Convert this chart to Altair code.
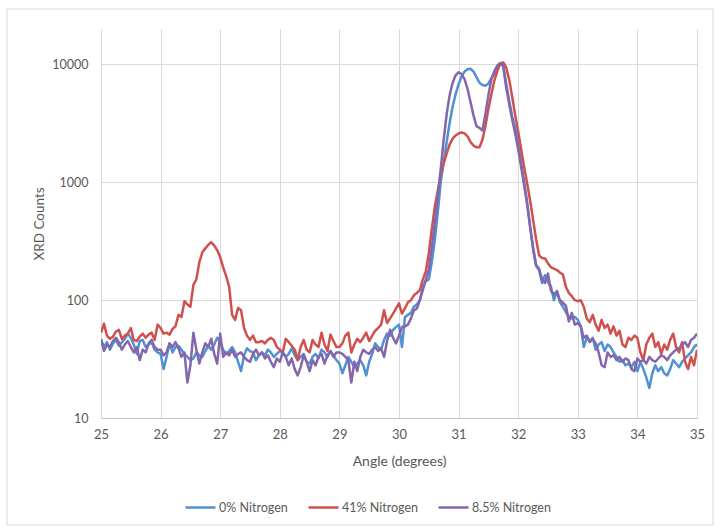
import altair as alt
import pandas as pd

# Scan grid: 25.00 to 35.00 degrees in 0.05 degree steps (201 points per scan)
ANGLE_START = 25.0
ANGLE_STEP = 0.05

series_names = ["0% Nitrogen", "41% Nitrogen", "8.5% Nitrogen"]
series_colors = ["#4F91D3", "#D0504D", "#8566AC"]

counts_0 = [
    46, 40, 44, 38, 43, 46, 41, 44, 47, 52, 48, 42, 35, 45, 46, 40, 42, 44, 38, 36,
    35, 26, 33, 43, 36, 40, 41, 38, 35, 33, 31, 32, 36, 34, 33, 37, 41, 38, 42, 48,
    44, 38, 35, 37, 40, 36, 30, 25, 34, 39, 37, 36, 31, 34, 36, 34, 38, 36, 33, 35,
    37, 36, 33, 35, 39, 34, 31, 33, 35, 30, 29, 33, 35, 32, 38, 36, 33, 37, 34, 31,
    29, 24, 28, 33, 30, 27, 29, 31, 28, 23, 30, 35, 43, 40, 38, 46, 52, 50, 56, 59,
    62, 40, 72, 75, 78, 88, 92, 100, 130, 145, 150, 210, 320, 550, 1000, 1500, 2200, 3200, 4400, 5600,
    6800, 7900, 8700, 9100, 9200, 8700, 7800, 7000, 6700, 6600, 6900, 7600, 8400, 9500, 10300, 9800, 6800, 4900, 3600, 2900,
    2100, 1450, 1000, 680, 420, 270, 195, 180, 140, 163, 142, 130, 100, 120, 96, 88, 79, 72, 70, 72,
    68, 60, 40, 48, 45, 48, 38, 42, 44, 37, 42, 40, 36, 33, 30, 31, 28, 29, 27, 30,
    25, 30, 26, 22, 18, 24, 28, 25, 27, 24, 23, 26, 31, 29, 27, 30, 32, 34, 36, 40, 42,
]

counts_41 = [
    53, 63, 50, 47, 49, 54, 56, 47, 50, 52, 58, 46, 45, 49, 52, 48, 51, 53, 46, 62,
    58, 52, 53, 51, 57, 60, 75, 72, 98, 92, 88, 135, 150, 210, 255, 275, 295, 310, 290, 265,
    232, 190, 160, 130, 75, 68, 86, 82, 58, 50, 46, 50, 44, 44, 45, 43, 46, 48, 46, 40,
    38, 36, 47, 44, 41, 38, 31, 40, 46, 38, 36, 46, 42, 40, 53, 42, 37, 51, 45, 40,
    40, 43, 50, 53, 36, 42, 47, 44, 48, 53, 45, 50, 55, 58, 62, 82, 64, 70, 77, 85,
    94, 77, 85, 96, 100, 110, 115, 122, 150, 175, 250, 400, 615, 850, 1150, 1450, 1750, 2100, 2350, 2500,
    2600, 2650, 2600, 2450, 2200, 2050, 1980, 1980, 2300, 3000, 4200, 5600, 7300, 8800, 10200, 10400, 9400, 7400, 5300, 3700,
    2700, 1900, 1350, 980, 700, 480, 330, 240, 228, 226, 205, 190, 185, 180, 172, 165, 130, 115, 108, 100,
    98, 100, 88, 70, 65, 75, 62, 55, 68, 58, 62, 52, 60, 50, 55, 42, 40, 48, 46, 50,
    48, 36, 31, 42, 48, 52, 40, 44, 35, 42, 38, 46, 52, 40, 36, 44, 30, 26, 33, 28, 38,
]

counts_8_5 = [
    47, 37, 42, 40, 45, 48, 44, 38, 42, 45, 40, 36, 40, 31, 38, 36, 43, 46, 40, 38,
    38, 34, 36, 43, 40, 44, 39, 33, 36, 20, 28, 53, 38, 29, 36, 43, 40, 47, 35, 29,
    52, 33, 36, 34, 38, 33, 35, 36, 33, 31, 30, 35, 38, 34, 36, 32, 34, 30, 27, 32,
    30, 36, 33, 28, 32, 26, 23, 27, 34, 30, 25, 31, 28, 33, 35, 29, 34, 37, 33, 36,
    36, 35, 33, 31, 20, 30, 25, 33, 38, 36, 35, 38, 40, 37, 39, 33, 45, 56, 48, 43,
    50, 59, 60, 62, 70, 82, 85, 100, 122, 150, 180, 280, 450, 750, 1300, 2300, 3800, 5500, 7000, 8100,
    8600, 8300, 7500, 6200, 4800, 3700, 3000, 2900, 2750, 3800, 5500, 7500, 8800, 9800, 10300, 9600, 6300, 4600, 3400, 2600,
    1900, 1350, 950, 650, 420, 280, 200, 185, 150, 140, 168, 120, 112, 118, 100, 95, 90, 66, 78, 62,
    64, 60, 48, 50, 44, 47, 43, 36, 28, 27, 36, 33, 34, 31, 33, 30, 32, 31, 26, 25,
    32, 30, 31, 29, 33, 31, 30, 32, 34, 33, 31, 34, 36, 38, 39, 42, 44, 40, 46, 48, 52,
]

x_ticks = list(range(25, 36))
y_ticks = [10, 100, 1000, 10000]

rows = []
for name, values in zip(series_names, [counts_0, counts_41, counts_8_5]):
    for i, v in enumerate(values):
        rows.append({"angle": round(ANGLE_START + ANGLE_STEP * i, 2), "counts": v, "sample": name})
df = pd.DataFrame(rows)

FONT = "Lato"
TEXT = "#595959"
GRID = "#D9D9D9"

lines = alt.Chart(df).mark_line(strokeWidth=2.5, strokeJoin="round", clip=True).encode(
    x=alt.X(
        "angle:Q",
        title="Angle (degrees)",
        scale=alt.Scale(domain=[25, 35], nice=False, zero=False),
        axis=alt.Axis(
            values=x_ticks,
            format="d",
            grid=True,
            gridColor=GRID,
            domain=True,
            domainColor="#C6C6C6",
            ticks=False,
            labelFlush=False,
            labelPadding=10,
            labelFont=FONT,
            labelFontSize=13,
            labelColor=TEXT,
            titleFont=FONT,
            titleFontSize=14,
            titleFontWeight="normal",
            titleColor=TEXT,
            titlePadding=13,
        ),
    ),
    y=alt.Y(
        "counts:Q",
        title="XRD Counts",
        scale=alt.Scale(type="log", domain=[10, 20000], nice=False),
        axis=alt.Axis(
            values=y_ticks,
            format="d",
            grid=True,
            gridColor=GRID,
            domain=False,
            ticks=False,
            labelPadding=13,
            labelFont=FONT,
            labelFontSize=12.5,
            labelColor=TEXT,
            titleFont=FONT,
            titleFontSize=13.5,
            titleFontWeight="normal",
            titleColor=TEXT,
            titlePadding=5,
        ),
    ),
    color=alt.Color(
        "sample:N",
        scale=alt.Scale(domain=series_names, range=series_colors),
        sort=series_names,
        legend=alt.Legend(
            title=None,
            orient="none",
            legendX=83,
            legendY=462,
            direction="horizontal",
            symbolType="stroke",
            symbolStrokeWidth=2.5,
            symbolSize=900,
            labelFont=FONT,
            labelFontSize=12.5,
            labelColor=TEXT,
            labelOffset=2,
            columnPadding=15,
            padding=0,
        ),
    ),
    detail="sample:N",
)

frame_df = pd.DataFrame({"frame": [0]})
frame = alt.Chart(frame_df).mark_rect(
    filled=False, stroke=GRID, strokeWidth=1, clip=False
).encode(
    x=alt.value(-94), x2=alt.value(612), y=alt.value(-20), y2=alt.value(496)
)

chart = alt.layer(frame, lines).properties(
    width=596,
    height=389,
    autosize=alt.AutoSizeParams(type="none"),
    padding={"left": 101, "top": 29, "right": 18, "bottom": 109},
    background="white",
).configure_view(stroke=None)

chart.save("out.html", embed_options={"renderer": "svg", "actions": False})
